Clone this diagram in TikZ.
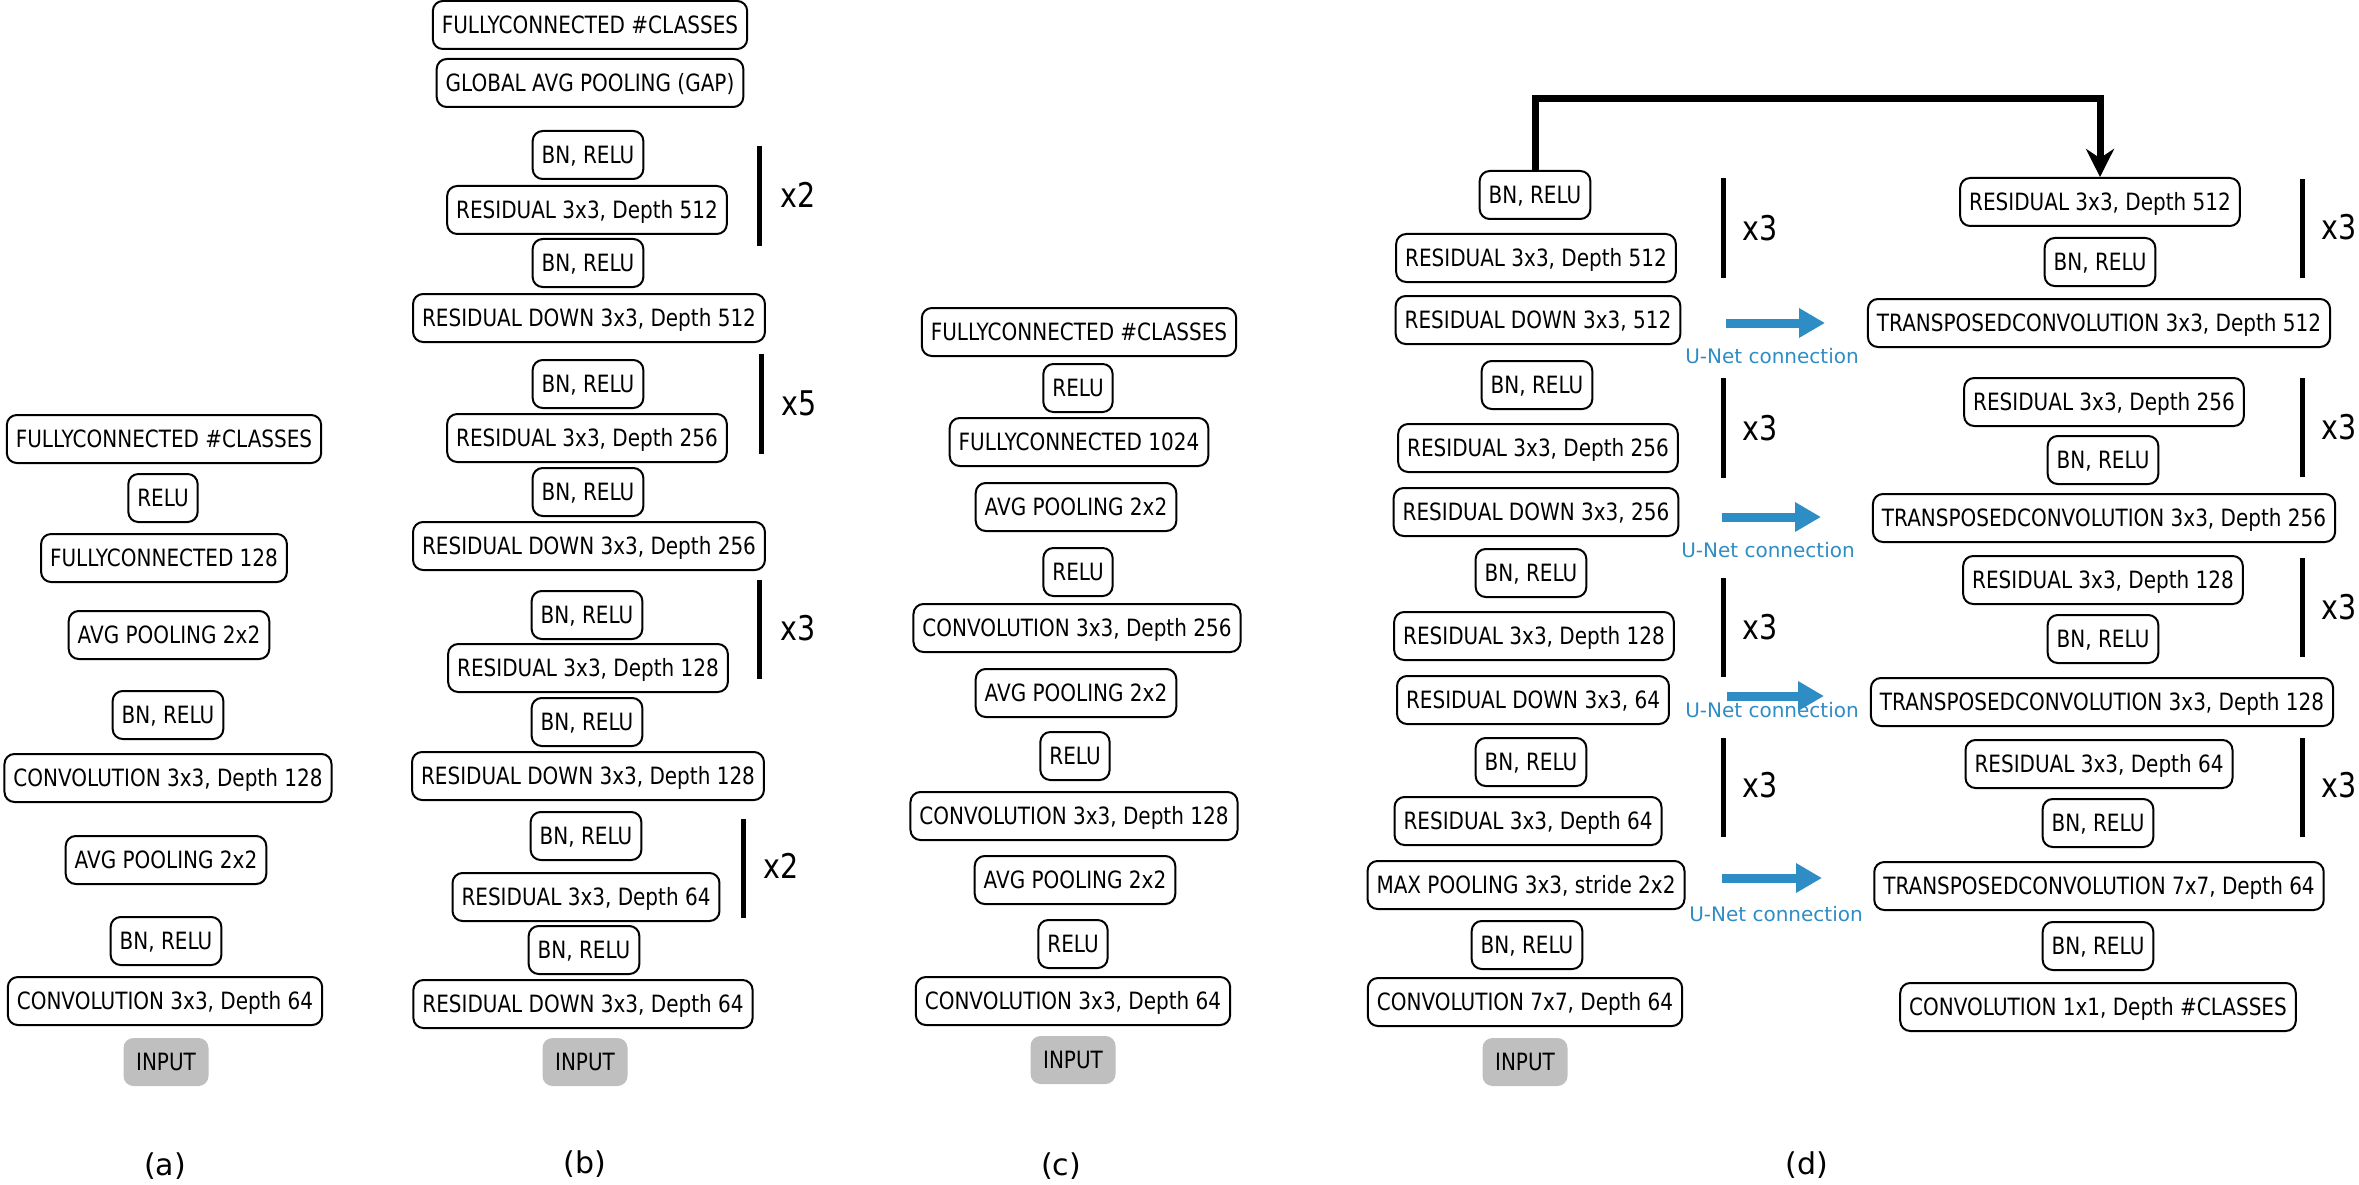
\documentclass[tikz,border=0pt]{standalone}
\usepackage{fontspec}
\setmainfont{DejaVu Sans}
\newfontfamily\boxfont[FakeStretch=0.84]{DejaVu Sans}
\usepackage{tikz}
\usetikzlibrary{arrows.meta}
\definecolor{inputgray}{RGB}{191,191,191}
\definecolor{unetblue}{RGB}{46,141,196}

\begin{document}
\begin{tikzpicture}[x=1pt, y=-1pt]
    \tikzstyle{blk}=[draw, rounded corners=10pt, line width=2pt, inner xsep=9pt, inner ysep=0pt, minimum height=48pt, text height=17.5pt, text depth=0pt, font=\boxfont\fontsize{23.8}{28}\selectfont]
    \tikzstyle{inp}=[blk, draw=none, fill=inputgray, minimum width=85pt]
    \tikzstyle{repbar}=[line width=5pt]
    \tikzstyle{reps}=[anchor=west, inner sep=0pt, font=\boxfont\fontsize{34}{40}\selectfont]
    \tikzstyle{unet}=[line width=9pt, unetblue, -{Triangle[length=26pt,width=28pt]}]
    \tikzstyle{unetlab}=[text=unetblue, inner sep=0pt, font=\fontsize{20}{24}\selectfont]
    \tikzstyle{shortcut}=[line width=7pt, -{Stealth[length=28pt,width=28pt]}]
    \tikzstyle{panel}=[font=\fontsize{30}{36}\selectfont]

    \useasboundingbox (0,0) rectangle (2359,1185);

    % (a)
    \node[inp] (a1) at (166,1062) {INPUT};
    \node[blk] (a2) at (165,1001) {CONVOLUTION 3x3, Depth 64};
    \node[blk] (a3) at (166,941) {BN, RELU};
    \node[blk] (a4) at (166,860) {AVG POOLING 2x2};
    \node[blk] (a5) at (168,778) {CONVOLUTION 3x3, Depth 128};
    \node[blk] (a6) at (168,715) {BN, RELU};
    \node[blk] (a7) at (169,635) {AVG POOLING 2x2};
    \node[blk] (a8) at (164,558) {FULLYCONNECTED 128\ };
    \node[blk] (a9) at (163,498) {RELU};
    \node[blk] (a10) at (164,439) {FULLYCONNECTED \#CLASSES};
    \node[panel] (la) at (165,1166) {(a)};

    % (b)
    \node[inp] (b1) at (585,1062) {INPUT};
    \node[blk] (b2) at (583,1004) {RESIDUAL DOWN 3x3, Depth 64};
    \node[blk] (b3) at (584,950) {BN, RELU};
    \node[blk] (b4) at (586,897) {RESIDUAL 3x3, Depth 64};
    \node[blk] (b5) at (586,836) {BN, RELU};
    \node[blk] (b6) at (588,776) {RESIDUAL DOWN 3x3, Depth 128};
    \node[blk] (b7) at (587,722) {BN, RELU};
    \node[blk] (b8) at (588,668) {RESIDUAL 3x3, Depth 128};
    \node[blk] (b9) at (587,615) {BN, RELU};
    \node[blk] (b10) at (589,546) {RESIDUAL DOWN 3x3, Depth 256};
    \node[blk] (b11) at (588,492) {BN, RELU};
    \node[blk] (b12) at (587,438) {RESIDUAL 3x3, Depth 256};
    \node[blk] (b13) at (588,384) {BN, RELU};
    \node[blk] (b14) at (589,318) {RESIDUAL DOWN 3x3, Depth 512};
    \node[blk] (b15) at (588,263) {BN, RELU};
    \node[blk] (b16) at (587,210) {RESIDUAL 3x3, Depth 512};
    \node[blk] (b17) at (588,155) {BN, RELU};
    \node[blk] (b18) at (590,83) {GLOBAL AVG POOLING (GAP)};
    \node[blk] (b19) at (590,25) {FULLYCONNECTED \#CLASSES};
    \node[panel] (lb) at (585,1164) {(b)};

    \draw[repbar] (759,146) -- (759,246);
    \node[reps] (xb1) at (780,195) {x2};
    \draw[repbar] (761,354) -- (761,454);
    \node[reps] (xb2) at (781,403) {x5};
    \draw[repbar] (759,580) -- (759,679);
    \node[reps] (xb3) at (780,628) {x3};
    \draw[repbar] (743,819) -- (743,918);
    \node[reps] (xb4) at (763,866) {x2};

    % (c)
    \node[inp] (c1) at (1073,1060) {INPUT};
    \node[blk] (c2) at (1073,1001) {CONVOLUTION 3x3, Depth 64};
    \node[blk] (c3) at (1073,944) {RELU};
    \node[blk] (c4) at (1075,880) {AVG POOLING 2x2};
    \node[blk] (c5) at (1074,816) {CONVOLUTION 3x3, Depth 128};
    \node[blk] (c6) at (1075,756) {RELU};
    \node[blk] (c7) at (1076,693) {AVG POOLING 2x2};
    \node[blk] (c8) at (1077,628) {CONVOLUTION 3x3, Depth 256};
    \node[blk] (c9) at (1078,572) {RELU};
    \node[blk] (c10) at (1076,507) {AVG POOLING 2x2};
    \node[blk] (c11) at (1079,442) {FULLYCONNECTED 1024\ };
    \node[blk] (c12) at (1078,388) {RELU};
    \node[blk] (c13) at (1079,332) {FULLYCONNECTED \#CLASSES};
    \node[panel] (lc) at (1061,1166) {(c)};

    % (d) encoder
    \node[inp] (d1) at (1525,1062) {INPUT};
    \node[blk] (d2) at (1525,1002) {CONVOLUTION 7x7, Depth 64};
    \node[blk] (d3) at (1527,945) {BN, RELU};
    \node[blk] (d4) at (1526,885) {MAX POOLING 3x3, stride 2x2};
    \node[blk] (d5) at (1528,821) {RESIDUAL 3x3, Depth 64};
    \node[blk] (d6) at (1531,762) {BN, RELU};
    \node[blk] (d7) at (1533,700) {RESIDUAL DOWN 3x3, 64};
    \node[blk] (d8) at (1534,636) {RESIDUAL 3x3, Depth 128};
    \node[blk] (d9) at (1531,573) {BN, RELU};
    \node[blk] (d10) at (1536,512) {RESIDUAL DOWN 3x3, 256};
    \node[blk] (d11) at (1538,448) {RESIDUAL 3x3, Depth 256};
    \node[blk] (d12) at (1537,385) {BN, RELU};
    \node[blk] (d13) at (1538,320) {RESIDUAL DOWN 3x3, 512};
    \node[blk] (d14) at (1536,258) {RESIDUAL 3x3, Depth 512};
    \node[blk] (d15) at (1535,195) {BN, RELU};

    % (d) decoder
    \node[blk] (e1) at (2098,1007) {CONVOLUTION 1x1, Depth \#CLASSES};
    \node[blk] (e2) at (2098,946) {BN, RELU};
    \node[blk] (e3) at (2099,886) {TRANSPOSEDCONVOLUTION 7x7, Depth 64};
    \node[blk] (e4) at (2098,823) {BN, RELU};
    \node[blk] (e5) at (2099,764) {RESIDUAL 3x3, Depth 64};
    \node[blk] (e6) at (2102,702) {TRANSPOSEDCONVOLUTION 3x3, Depth 128};
    \node[blk] (e7) at (2103,639) {BN, RELU};
    \node[blk] (e8) at (2103,580) {RESIDUAL 3x3, Depth 128};
    \node[blk] (e9) at (2104,518) {TRANSPOSEDCONVOLUTION 3x3, Depth 256};
    \node[blk] (e10) at (2103,460) {BN, RELU};
    \node[blk] (e11) at (2104,402) {RESIDUAL 3x3, Depth 256};
    \node[blk] (e12) at (2099,323) {TRANSPOSEDCONVOLUTION 3x3, Depth 512};
    \node[blk] (e13) at (2100,262) {BN, RELU};
    \node[blk] (e14) at (2100,202) {RESIDUAL 3x3, Depth 512};
    \node[panel] (ld) at (1807,1165) {(d)};

    \draw[repbar] (1723,178) -- (1723,278);
    \node[reps] (xd1) at (1742,228) {x3};
    \draw[repbar] (1723,378) -- (1723,478);
    \node[reps] (xd2) at (1742,428) {x3};
    \draw[repbar] (1723,578) -- (1723,677);
    \node[reps] (xd3) at (1742,627) {x3};
    \draw[repbar] (1723,738) -- (1723,837);
    \node[reps] (xd4) at (1742,785) {x3};

    \draw[repbar] (2302,179) -- (2302,278);
    \node[reps] (xe1) at (2321,227) {x3};
    \draw[repbar] (2302,378) -- (2302,477);
    \node[reps] (xe2) at (2321,427) {x3};
    \draw[repbar] (2302,558) -- (2302,657);
    \node[reps] (xe3) at (2321,607) {x3};
    \draw[repbar] (2302,738) -- (2302,837);
    \node[reps] (xe4) at (2321,785) {x3};

    \coordinate (u1) at (1726,323);
    \coordinate (v1) at (1825,323);
    \coordinate (u2) at (1722,517);
    \coordinate (v2) at (1821,517);
    \coordinate (u3) at (1727,696);
    \coordinate (v3) at (1824,696);
    \coordinate (u4) at (1722,878);
    \coordinate (v4) at (1822,878);
    \draw[unet] (u1) -- (v1);
    \draw[unet] (u2) -- (v2);
    \draw[unet] (u3) -- (v3);
    \draw[unet] (u4) -- (v4);
    \node[unetlab] (n1) at (1772,356) {U-Net connection};
    \node[unetlab] (n2) at (1768,550) {U-Net connection};
    \node[unetlab] (n3) at (1772,710) {U-Net connection};
    \node[unetlab] (n4) at (1776,914) {U-Net connection};

    \coordinate (top) at (1818,99);
    \draw[shortcut] (d15.north) |- (top) -| (e14.north);

\end{tikzpicture}
\end{document}
